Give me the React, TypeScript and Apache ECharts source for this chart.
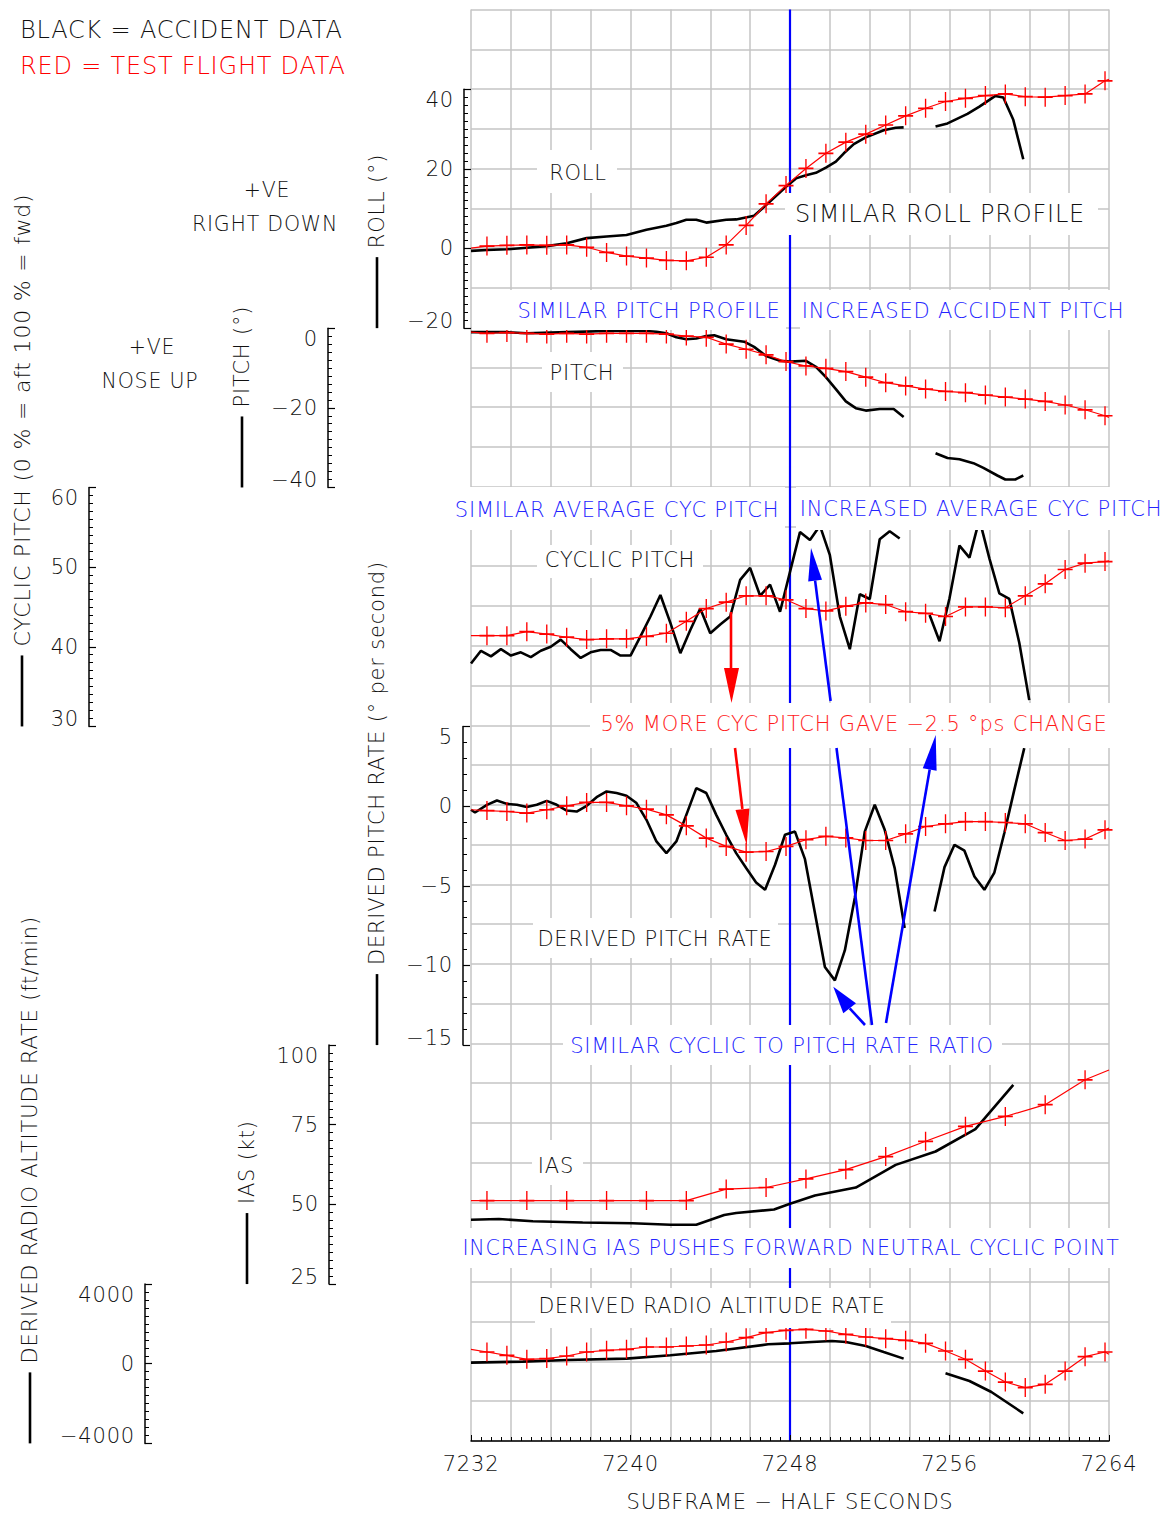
import React, { useEffect, useRef } from "react";
import * as echarts from "echarts";

// ---------------- DATA ----------------
const X_MIN = 7232;
const X_MAX = 7264;
const X_LABEL_STEP = 8;
const X_GRID_STEP = 2;
const EVENT_SUBFRAME = 7248;

const testSampleX = [7232.8, 7233.8, 7234.8, 7235.8, 7236.8, 7237.8, 7238.8, 7239.8, 7240.8, 7241.8, 7242.8, 7243.8, 7244.8, 7245.8, 7246.8, 7247.8, 7248.8, 7249.8, 7250.8, 7251.8, 7252.8, 7253.8, 7254.8, 7255.8, 7256.8, 7257.8, 7258.8, 7259.8, 7260.8, 7261.8, 7262.8, 7263.8];
const iasTestSampleX = [7232.8, 7234.8, 7236.8, 7238.8, 7240.8, 7242.8, 7244.8, 7246.8, 7248.8, 7250.8, 7252.8, 7254.8, 7256.8, 7258.8, 7260.8, 7262.8];

// test flight (red) : [value at 7232, value at 7264] and samples
const rollTestEnds = [0.1, 42.5];
const rollTest = [0.6, 0.8, 0.9, 0.8, 0.9, 0.3, -1.0, -1.9, -2.4, -3.0, -3.1, -2.2, 0.9, 5.8, 11.2, 15.8, 20.1, 23.9, 26.7, 28.7, 31.0, 33.3, 35.2, 36.9, 37.7, 38.4, 38.8, 38.1, 38.0, 38.4, 38.8, 42.1];
const pitchTestEnds = [-1.0, -22.4];
const pitchTest = [-1.3, -1.1, -1.3, -1.5, -1.3, -1.5, -1.3, -1.3, -1.3, -1.5, -2.0, -2.3, -4.0, -5.3, -6.7, -8.4, -9.5, -10.1, -10.9, -12.3, -13.7, -14.5, -15.3, -15.9, -16.2, -16.8, -17.3, -17.8, -18.4, -19.3, -20.5, -22.0];
const cyclicTestEnds = [41.4, 50.8];
const cyclicTest = [41.4, 41.4, 41.9, 41.6, 41.2, 40.9, 41.0, 41.0, 41.3, 41.7, 43.2, 44.8, 45.6, 46.4, 46.4, 45.9, 44.8, 44.5, 45.1, 45.5, 45.3, 44.4, 44.2, 43.8, 45.0, 45.0, 44.9, 46.4, 47.9, 49.7, 50.5, 50.7];
const pitchRateTestEnds = [-0.23, -1.38];
const pitchRateTest = [-0.28, -0.34, -0.44, -0.23, 0.02, 0.23, 0.23, 0.02, -0.19, -0.55, -1.24, -2.01, -2.53, -2.89, -2.85, -2.53, -2.11, -1.9, -2.0, -2.16, -2.16, -1.74, -1.28, -1.11, -0.97, -0.97, -1.03, -1.11, -1.66, -2.16, -2.07, -1.49];
const iasTestEnds = [51.2, 92.2];
const iasTest = [51.2, 51.2, 51.2, 51.2, 51.2, 51.2, 54.8, 55.3, 58.0, 60.9, 65.0, 69.8, 74.5, 77.6, 81.3, 89.1];
const altTestEnds = [723, 472];
const altTest = [589, 422, 221, 256, 387, 589, 673, 723, 840, 840, 890, 940, 1091, 1309, 1560, 1677, 1727, 1643, 1476, 1342, 1258, 1175, 1024, 638, 221, -367, -919, -1200, -1034, -367, 355, 589];

// accident (black) : [subframe, value], null = data gap
const rollAccident = [[7232.0, -0.6], [7232.8, -0.4], [7233.8, -0.2], [7234.8, 0.2], [7235.8, 0.6], [7236.8, 1.3], [7237.8, 2.6], [7238.8, 3.0], [7239.8, 3.4], [7240.8, 4.7], [7241.8, 5.7], [7242.3, 6.4], [7242.8, 7.2], [7243.3, 7.2], [7243.8, 6.5], [7244.8, 7.2], [7245.3, 7.3], [7246.2, 8.2], [7246.8, 10.9], [7247.8, 15.5], [7248.3, 17.6], [7248.8, 18.4], [7249.3, 19.0], [7249.8, 20.3], [7250.3, 21.8], [7250.7, 23.9], [7251.2, 26.2], [7251.8, 27.9], [7252.7, 29.7], [7253.3, 30.3], [7253.7, 30.4], null, [7255.3, 30.6], [7255.9, 31.4], [7256.9, 33.8], [7257.5, 35.6], [7258.3, 38.3], [7258.7, 37.9], [7259.2, 32.3], [7259.7, 22.4]];
const pitchAccident = [[7232.0, -1.0], [7233.8, -1.0], [7234.8, -1.3], [7236.8, -1.0], [7238.8, -0.7], [7240.8, -0.7], [7241.3, -0.9], [7241.8, -1.3], [7242.3, -2.3], [7242.8, -2.8], [7243.3, -2.6], [7243.8, -2.0], [7244.2, -1.8], [7244.8, -2.8], [7245.7, -3.4], [7246.2, -4.7], [7246.8, -7.0], [7247.5, -8.2], [7248.0, -8.4], [7248.8, -8.2], [7249.3, -9.7], [7249.8, -12.3], [7250.3, -15.3], [7250.8, -18.4], [7251.3, -20.1], [7251.8, -20.7], [7252.5, -20.3], [7253.2, -20.3], [7253.7, -22.3], null, [7255.3, -31.4], [7255.9, -32.6], [7256.5, -32.9], [7257.2, -33.9], [7257.7, -35.1], [7258.4, -37.0], [7258.8, -38.0], [7259.3, -38.0], [7259.7, -37.0]];
const cyclicAccident = [[7232.0, 37.9], [7232.5, 39.5], [7233.0, 38.8], [7233.5, 39.7], [7234.0, 38.9], [7234.5, 39.3], [7235.0, 38.7], [7235.5, 39.5], [7236.0, 40.0], [7236.5, 40.9], [7237.0, 39.7], [7237.5, 38.6], [7238.0, 39.3], [7238.5, 39.6], [7239.0, 39.6], [7239.5, 38.9], [7240.0, 38.9], [7240.5, 41.3], [7241.0, 43.8], [7241.5, 46.5], [7242.0, 43.0], [7242.5, 39.2], [7243.0, 42.1], [7243.5, 44.8], [7244.0, 41.7], [7244.5, 42.8], [7245.0, 43.8], [7245.5, 48.4], [7246.0, 49.9], [7246.5, 46.4], [7247.0, 47.8], [7247.5, 44.4], [7248.0, 49.4], [7248.5, 54.4], [7249.0, 53.4], [7249.5, 55.2], [7250.0, 51.5], [7250.5, 43.8], [7251.0, 39.7], [7251.5, 46.6], [7252.0, 46.0], [7252.5, 53.5], [7253.0, 54.5], [7253.5, 53.6], null, [7255.0, 44.0], [7255.5, 40.7], [7256.0, 46.1], [7256.5, 52.7], [7257.0, 51.2], [7257.5, 56.0], [7258.0, 51.1], [7258.5, 46.7], [7259.0, 46.0], [7259.5, 40.5], [7260.0, 33.3]];
const pitchRateAccident = [[7232.0, -0.23], [7232.2, -0.4], [7232.8, 0.08], [7233.3, 0.35], [7233.8, 0.14], [7234.3, 0.08], [7234.8, -0.06], [7235.3, 0.08], [7235.8, 0.33], [7236.3, 0.08], [7236.8, -0.28], [7237.3, -0.34], [7237.8, 0.02], [7238.3, 0.56], [7238.8, 0.92], [7239.3, 0.82], [7239.8, 0.65], [7240.3, 0.19], [7240.8, -0.86], [7241.3, -2.22], [7241.8, -2.95], [7242.3, -2.22], [7242.8, -0.55], [7243.3, 1.13], [7243.8, 0.82], [7244.3, -0.55], [7244.8, -1.8], [7245.3, -2.95], [7245.8, -3.89], [7246.3, -4.79], [7246.75, -5.25], [7247.25, -3.68], [7247.75, -1.8], [7248.25, -1.6], [7248.75, -3.33], [7249.25, -6.71], [7249.75, -10.1], [7250.25, -10.94], [7250.75, -9.06], [7251.25, -5.77], [7251.75, -1.6], [7252.25, 0.08], [7252.75, -1.49], [7253.25, -3.89], [7253.75, -7.65], null, [7255.25, -6.61], [7255.75, -3.83], [7256.25, -2.43], [7256.75, -2.8], [7257.25, -4.42], [7257.75, -5.25], [7258.25, -4.17], [7258.75, -1.69], [7259.25, 1.02], [7259.75, 3.64]];
const iasAccident = [[7232.0, 45.2], [7233.4, 45.4], [7235.1, 44.7], [7237.6, 44.3], [7240.1, 44.1], [7242.0, 43.6], [7243.3, 43.6], [7244.7, 46.7], [7245.3, 47.3], [7247.2, 48.4], [7248.0, 50.2], [7249.25, 52.8], [7251.3, 55.3], [7253.3, 62.4], [7255.3, 66.6], [7257.3, 73.6], [7259.2, 87.5]];
const altAccident = [[7232.0, 55], [7234.6, 105], [7236.8, 186], [7239.8, 256], [7242.0, 422], [7244.3, 638], [7246.9, 974], [7248.0, 1024], [7249.1, 1091], [7250.1, 1141], [7250.8, 1091], [7251.8, 890], [7252.7, 589], [7253.7, 256], null, [7255.8, -482], [7257.0, -868], [7258.1, -1420], [7259.7, -2490]];

// ---------------- LAYOUT ----------------
const FONT = "'DejaVu Sans', 'Liberation Sans', sans-serif";
const FW = 300;
const PLOT_LEFT = 471;
const PLOT_TOP = 9.5;
const PLOT_W = 638;
const ROWS = 36;
const ROW_H = 39.83;
const rowY = (r: number) => PLOT_TOP + r * ROW_H;
const GRID_COLOR = "#c4c4c4";
const BLUE = "#0000ff";
const TXT_BLUE = "#2424ff";
const RED = "#ff0000";
const CROSS = "path://M9.1 0h1.8v20h-1.8zM0 9.1h20v1.8h-20z";
const TICK_FS = 21;

const panels = [
  { rows: [2, 8], min: -20, max: 40, interval: 20, minor: 10, axisX: 464, title: "ROLL (°)", titleX: 377, titleFs: 21, test: rollTest, ends: rollTestEnds, sx: testSampleX, acc: rollAccident },
  { rows: [8, 12], min: -40, max: 0, interval: 20, minor: 10, axisX: 328, title: "PITCH (°)", titleX: 242, titleFs: 21, test: pitchTest, ends: pitchTestEnds, sx: testSampleX, acc: pitchAccident },
  { rows: [12, 18], min: 30, max: 60, interval: 10, minor: 10, axisX: 89, title: "CYCLIC PITCH (0 % = aft 100 % = fwd)", titleX: 22, titleFs: 22, test: cyclicTest, ends: cyclicTestEnds, sx: testSampleX, acc: cyclicAccident },
  { rows: [18, 26], min: -15, max: 5, interval: 5, minor: 5, axisX: 463, title: "DERIVED PITCH RATE (° per second)", titleX: 377, titleFs: 21, test: pitchRateTest, ends: pitchRateTestEnds, sx: testSampleX, acc: pitchRateAccident },
  { rows: [26, 32], min: 25, max: 100, interval: 25, minor: 10, axisX: 329, title: "IAS (kt)", titleX: 247, titleFs: 21, test: iasTest, ends: iasTestEnds, sx: iasTestSampleX, acc: iasAccident },
  { rows: [32, 36], min: -4000, max: 4000, interval: 4000, minor: 10, axisX: 145, title: "DERIVED RADIO ALTITUDE RATE (ft/min)", titleX: 30, titleFs: 21, test: altTest, ends: altTestEnds, sx: testSampleX, acc: altAccident },
];

const annotations = [
  { text: "ROLL", cx: 578, cy: 173, box: [537, 150, 617, 193], color: "#111", fs: 21 },
  { text: "SIMILAR ROLL PROFILE", cx: 940, cy: 214, box: [785, 193, 1098, 235], color: "#111", fs: 24 },
  { text: "SIMILAR PITCH PROFILE", cx: 649, cy: 311, box: [472, 290, 786, 330], color: TXT_BLUE, fs: 21 },
  { text: "INCREASED ACCIDENT PITCH", cx: 963, cy: 311, box: [800, 290, 1127, 330], color: TXT_BLUE, fs: 21 },
  { text: "PITCH", cx: 582, cy: 373, box: [542, 352, 623, 392], color: "#111", fs: 21 },
  { text: "SIMILAR AVERAGE CYC PITCH", cx: 617, cy: 510, box: [450, 487, 785, 530], color: TXT_BLUE, fs: 21 },
  { text: "INCREASED AVERAGE CYC PITCH", cx: 981, cy: 509, box: [796, 487, 1167, 530], color: TXT_BLUE, fs: 21 },
  { text: "CYCLIC PITCH", cx: 620, cy: 560, box: [537, 545, 703, 578], color: "#111", fs: 21 },
  { text: "5% MORE CYC PITCH GAVE −2.5 °ps CHANGE", cx: 854, cy: 724, box: [590, 703, 1118, 748], color: "#ff1a1a", fs: 21 },
  { text: "DERIVED PITCH RATE", cx: 655, cy: 939, box: [533, 918, 778, 958], color: "#111", fs: 21 },
  { text: "SIMILAR CYCLIC TO PITCH RATE RATIO", cx: 782, cy: 1046, box: [563, 1025, 1002, 1065], color: TXT_BLUE, fs: 21 },
  { text: "IAS", cx: 556, cy: 1166, box: [532, 1140, 583, 1185], color: "#111", fs: 21 },
  { text: "INCREASING IAS PUSHES FORWARD NEUTRAL CYCLIC POINT", cx: 791, cy: 1248, box: [455, 1228, 1126, 1268], color: TXT_BLUE, fs: 20.6 },
  { text: "DERIVED RADIO ALTITUDE RATE", cx: 712, cy: 1306, box: [535, 1288, 891, 1328], color: "#111", fs: 20.5 },
];

const arrows = [
  { color: RED, shaft: [731, 612, 731, 668], head: [[724, 668], [739, 668], [731.5, 703]] },
  { color: RED, shaft: [735, 748, 742.4, 809], head: [[749.4, 808.5], [735.5, 810.1], [746.7, 845]] },
  { color: BLUE, shaft: [872, 1025, 836.5, 748], head: null },
  { color: BLUE, shaft: [830.6, 701, 815.1, 580.7], head: [[822, 579.8], [808.2, 581.6], [811, 548]] },
  { color: BLUE, shaft: [886, 1023, 929.7, 769.5], head: [[936.6, 770.7], [922.8, 768.3], [935.7, 735]] },
  { color: BLUE, shaft: [865, 1025, 849.7, 1008.3], head: [[843.3, 1013.3], [856, 1003.3], [833.3, 986.7]] },
];

const fmtNum = (v: number) => String(v).replace("-", "\u2212");

function splitSegments(arr: any[]) {
  const out: number[][][] = [];
  let cur: number[][] = [];
  arr.forEach((p) => {
    if (p === null) {
      if (cur.length) out.push(cur);
      cur = [];
    } else cur.push(p);
  });
  if (cur.length) out.push(cur);
  return out;
}

function yLabel(min: number, max: number) {
  const base = { fontSize: TICK_FS, fontFamily: FONT, fontWeight: FW, color: "#111" } as any;
  return {
    ...base,
    margin: 10,
    formatter: (v: number) => {
      const s = fmtNum(v);
      if (v === max) return `{t|${s}}`;
      if (v === min) return `{b|${s}}`;
      return `{m|${s}}`;
    },
    rich: {
      t: { ...base, padding: [21, 0, 0, 0] },
      b: { ...base, padding: [0, 0, 14, 0] },
      m: { ...base },
    },
  };
}

function buildOption() {
  const grids: any[] = [
    { left: PLOT_LEFT, top: PLOT_TOP, width: PLOT_W, height: ROWS * ROW_H },
    ...panels.map((p) => ({
      left: PLOT_LEFT,
      top: rowY(p.rows[0]),
      width: PLOT_W,
      height: (p.rows[1] - p.rows[0]) * ROW_H,
    })),
  ];

  const xAxes: any[] = [
    {
      gridIndex: 0,
      type: "value",
      min: X_MIN,
      max: X_MAX,
      interval: X_LABEL_STEP,
      axisLine: { show: true, lineStyle: { color: "#000", width: 1.5 } },
      axisTick: { show: true, inside: true, length: 6, lineStyle: { color: "#000", width: 1 } },
      minorTick: { show: true, splitNumber: 16, length: 4, lineStyle: { color: "#000", width: 1 } },
      axisLabel: { fontSize: TICK_FS, fontFamily: FONT, fontWeight: FW, color: "#111", margin: 12, formatter: (v: number) => String(v) },
      splitLine: { show: false },
      name: "SUBFRAME \u2212 HALF SECONDS",
      nameLocation: "middle",
      nameGap: 50,
      nameTextStyle: { fontSize: 21, fontFamily: FONT, fontWeight: FW, color: "#111" },
      z: 6,
    },
    {
      gridIndex: 0,
      type: "value",
      min: X_MIN,
      max: X_MAX,
      interval: X_GRID_STEP,
      axisLine: { show: false },
      axisTick: { show: false },
      axisLabel: { show: false },
      splitLine: { show: true, lineStyle: { color: GRID_COLOR, width: 1.5 } },
    },
    ...panels.map((p, i) => ({ gridIndex: i + 1, type: "value", min: X_MIN, max: X_MAX, show: false })),
  ];

  const yAxes: any[] = [
    {
      gridIndex: 0,
      type: "value",
      min: 0,
      max: ROWS,
      interval: 1,
      axisLine: { show: false },
      axisTick: { show: false },
      axisLabel: { show: false },
      splitLine: { show: true, lineStyle: { color: GRID_COLOR, width: 1.5 } },
    },
    ...panels.map((p, i) => ({
      gridIndex: i + 1,
      type: "value",
      position: "left",
      offset: PLOT_LEFT - p.axisX,
      min: p.min,
      max: p.max,
      interval: p.interval,
      axisLine: { show: true, lineStyle: { color: "#000", width: 1.5 } },
      axisTick: { show: true, inside: true, length: 7, lineStyle: { color: "#000", width: 1.2 } },
      minorTick: { show: true, splitNumber: p.minor, length: 4, lineStyle: { color: "#000", width: 1 } },
      axisLabel: yLabel(p.min, p.max),
      splitLine: { show: false },
    })),
  ];

  const series: any[] = [
    {
      type: "line",
      xAxisIndex: 0,
      yAxisIndex: 0,
      data: [[EVENT_SUBFRAME, 0], [EVENT_SUBFRAME, ROWS]],
      showSymbol: false,
      lineStyle: { color: BLUE, width: 2.2 },
      silent: true,
      z: 2,
    },
  ];

  panels.forEach((p, i) => {
    const xi = i + 2;
    const yi = i + 1;
    splitSegments(p.acc).forEach((seg) => {
      series.push({
        type: "line",
        xAxisIndex: xi,
        yAxisIndex: yi,
        data: seg,
        showSymbol: false,
        clip: false,
        silent: true,
        lineStyle: { color: "#000", width: 2.6 },
        z: 3,
      });
    });
    const pts = p.sx.map((x, k) => [x, p.test[k]]);
    series.push({
      type: "line",
      xAxisIndex: xi,
      yAxisIndex: yi,
      data: [[X_MIN, p.ends[0]], ...pts, [X_MAX, p.ends[1]]],
      showSymbol: false,
      clip: false,
      silent: true,
      lineStyle: { color: RED, width: 1.2 },
      z: 4,
    });
    series.push({
      type: "scatter",
      xAxisIndex: xi,
      yAxisIndex: yi,
      data: pts,
      symbol: CROSS,
      symbolSize: [15, 19],
      clip: false,
      silent: true,
      itemStyle: { color: RED, opacity: 1 },
      z: 4,
    });
  });

  const tstyle = (extra: any) => ({ fontFamily: FONT, fontWeight: FW, fontSize: 21, fill: "#111", ...extra });
  const elements: any[] = [];

  elements.push({ type: "text", x: 20, y: 30, z: 20, style: tstyle({ text: "BLACK = ACCIDENT DATA", fontSize: 24, align: "left", verticalAlign: "middle" }) });
  elements.push({ type: "text", x: 20, y: 66, z: 20, style: tstyle({ text: "RED = TEST FLIGHT DATA", fontSize: 24, fill: RED, align: "left", verticalAlign: "middle" }) });
  elements.push({ type: "text", x: 267, y: 190, z: 20, style: tstyle({ text: "+VE", fontSize: 20.5, align: "center", verticalAlign: "middle" }) });
  elements.push({ type: "text", x: 265, y: 224, z: 20, style: tstyle({ text: "RIGHT DOWN", fontSize: 20.5, align: "center", verticalAlign: "middle" }) });
  elements.push({ type: "text", x: 152, y: 347, z: 20, style: tstyle({ text: "+VE", fontSize: 20.5, align: "center", verticalAlign: "middle" }) });
  elements.push({ type: "text", x: 150, y: 381, z: 20, style: tstyle({ text: "NOSE UP", fontSize: 20.5, align: "center", verticalAlign: "middle" }) });

  panels.forEach((p) => {
    const bottom = rowY(p.rows[1]);
    elements.push({
      type: "line",
      z: 20,
      shape: { x1: p.titleX, y1: bottom - 71, x2: p.titleX, y2: bottom },
      style: { stroke: "#000", lineWidth: 2.6 },
    });
    elements.push({
      type: "text",
      x: p.titleX,
      y: bottom - 80,
      rotation: Math.PI / 2,
      z: 20,
      style: tstyle({ text: p.title, fontSize: p.titleFs, align: "left", verticalAlign: "middle" }),
    });
  });

  annotations.forEach((a) => {
    elements.push({
      type: "rect",
      z: 10,
      shape: { x: a.box[0], y: a.box[1], width: a.box[2] - a.box[0], height: a.box[3] - a.box[1] },
      style: { fill: "#ffffff" },
    });
    elements.push({
      type: "text",
      x: a.cx,
      y: a.cy,
      z: 11,
      style: tstyle({ text: a.text, fill: a.color, fontSize: a.fs, align: "center", verticalAlign: "middle" }),
    });
  });

  arrows.forEach((ar) => {
    elements.push({
      type: "line",
      z: 12,
      shape: { x1: ar.shaft[0], y1: ar.shaft[1], x2: ar.shaft[2], y2: ar.shaft[3] },
      style: { stroke: ar.color, lineWidth: 2.6 },
    });
    if (ar.head) {
      elements.push({ type: "polygon", z: 12, shape: { points: ar.head }, style: { fill: ar.color } });
    }
  });

  return {
    animation: false,
    backgroundColor: "#ffffff",
    textStyle: { fontFamily: FONT },
    grid: grids,
    xAxis: xAxes,
    yAxis: yAxes,
    series,
    graphic: { elements },
  };
}

export default function App() {
  const ref = useRef<HTMLDivElement>(null);
  useEffect(() => {
    const chart = echarts.init(ref.current as HTMLDivElement, null, { renderer: "svg" });
    chart.setOption(buildOption() as any);
    return () => chart.dispose();
  }, []);
  return (
    <div
      ref={ref}
      style={{ position: "absolute", left: 0, top: 0, width: 1169, height: 1517, background: "#fff", letterSpacing: "0.8px" }}
    />
  );
}
